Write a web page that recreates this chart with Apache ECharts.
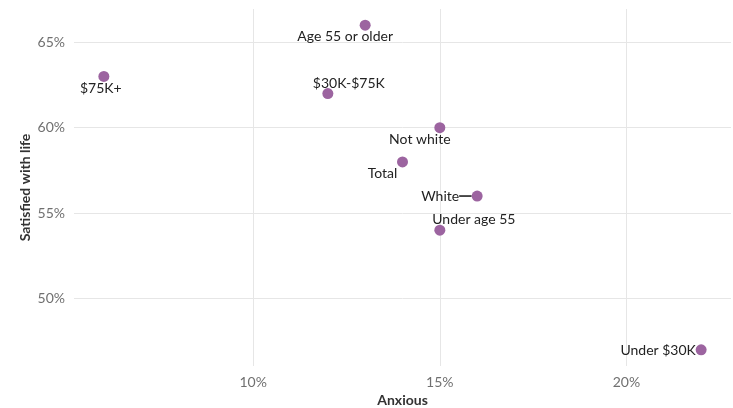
<!DOCTYPE html>
<html>
<head>
<meta charset="utf-8">
<script src="https://cdn.jsdelivr.net/npm/echarts@6/dist/echarts.min.js"></script>
<style>
html,body{margin:0;padding:0;background:#fff;}
#chart{width:733px;height:408px;}
</style>
</head>
<body>
<div id="chart"></div>
<script>
// Data (percent)
const groups = ["$75K+", "$30K-$75K", "Age 55 or older", "Not white", "Total", "White", "Under age 55", "Under $30K"];
const anxious = [6, 12, 13, 15, 14, 16, 15, 22];
const satisfied = [63, 62, 66, 60, 58, 56, 54, 47];
const xTicks = [10, 15, 20];
const yTicks = [50, 55, 60, 65];

// label placement (styling only, in pixels)
const labelOffsets = {
  "$75K+": [-3, 12],
  "$30K-$75K": [21, -10],
  "Age 55 or older": [-20, 11],
  "Not white": [-20, 12],
  "Total": [-20, 12],
  "White": [-37, 0],
  "Under age 55": [34, -11],
  "Under $30K": [-43, 1]
};

const FONT = "Lato, 'Noto Sans', sans-serif";

const data = groups.map((g, i) => {
  const item = { name: g, value: [anxious[i], satisfied[i]] };
  if (g === "White") {
    item.labelLine = { show: true, lineStyle: { color: '#222', width: 1.6 } };
  }
  return item;
});

const chart = echarts.init(document.getElementById('chart'), null, { renderer: 'canvas' });
chart.setOption({
  animation: false,
  backgroundColor: '#fff',
  grid: { left: 74, right: 2, top: 9, bottom: 42, containLabel: false, outerBoundsMode: 'none' },
  xAxis: {
    type: 'value',
    min: 5.2,
    max: 22.8,
    name: 'Anxious',
    nameLocation: 'middle',
    nameGap: 27,
    nameTextStyle: { fontFamily: FONT, fontWeight: 'bold', fontSize: 14, color: '#333' },
    axisLine: { show: false },
    axisTick: { show: false, customValues: xTicks },
    axisLabel: {
      customValues: xTicks,
      formatter: v => v + '%',
      fontFamily: FONT, fontSize: 14, color: '#707070', margin: 9
    },
    splitLine: { show: true, lineStyle: { color: '#e6e6e6', width: 1 } }
  },
  yAxis: {
    type: 'value',
    min: 46.05,
    max: 66.95,
    name: 'Satisfied with life',
    nameLocation: 'middle',
    nameGap: 42,
    nameRotate: 90,
    nameMoveOverlap: false,
    nameTextStyle: { fontFamily: FONT, fontWeight: 'bold', fontSize: 14, color: '#333' },
    axisLine: { show: false },
    axisTick: { show: false, customValues: yTicks },
    axisLabel: {
      customValues: yTicks,
      formatter: v => v + '%',
      fontFamily: FONT, fontSize: 14, color: '#707070', margin: 9
    },
    splitLine: { show: true, lineStyle: { color: '#e6e6e6', width: 1 } }
  },
  series: [{
    type: 'scatter',
    symbolSize: 11,
    itemStyle: { color: '#9c64a0', opacity: 1 },
    label: {
      show: true,
      position: 'inside',
      formatter: p => p.name,
      fontFamily: FONT,
      fontSize: 14,
      color: '#222'
    },
    labelLine: { show: false },
    labelLayout: function (params) {
      const off = labelOffsets[groups[params.dataIndex]];
      return { dx: off[0], dy: off[1] };
    },
    emphasis: { disabled: true },
    data: data
  }]
});
</script>
</body>
</html>
